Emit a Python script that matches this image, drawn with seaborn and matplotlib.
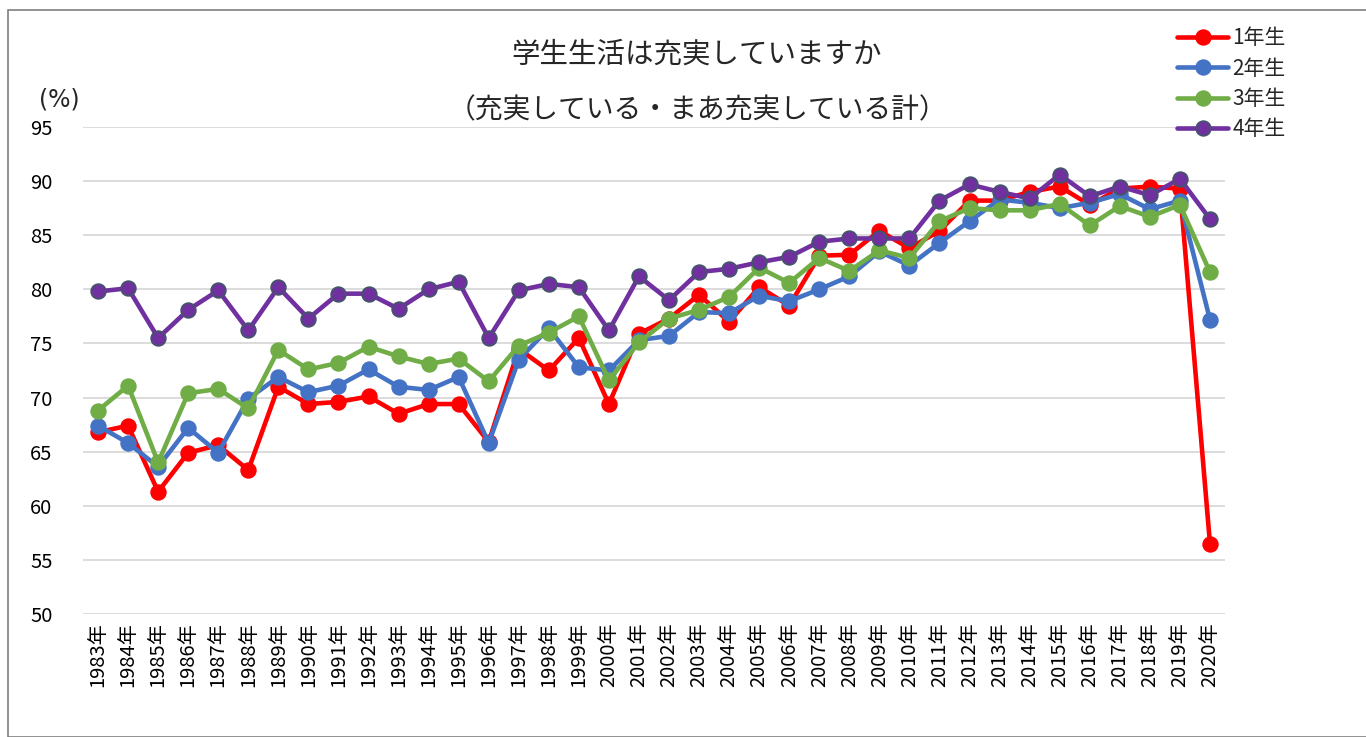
import numpy as np
import pandas as pd
import matplotlib
matplotlib.use("Agg")
import matplotlib.pyplot as plt
import seaborn as sns
from matplotlib.patches import Rectangle

years = [f"{y}年" for y in range(1983, 2021)]
series_names = ["1年生", "2年生", "3年生", "4年生"]

grade1 = [66.8, 67.4, 61.3, 64.9, 65.6, 63.3, 71.0, 69.4, 69.6, 70.1, 68.5, 69.4, 69.4, 65.9,
          74.5, 72.5, 75.5, 69.4, 75.9, 77.3, 79.5, 77.0, 80.2, 78.5, 83.1, 83.2, 85.4, 83.8,
          85.4, 88.2, 88.2, 89.0, 89.5, 87.8, 89.3, 89.5, 89.3, 56.5]
grade2 = [67.4, 65.8, 63.6, 67.2, 64.9, 69.9, 71.9, 70.5, 71.1, 72.6, 71.0, 70.7, 71.9, 65.8,
          73.5, 76.4, 72.8, 72.5, 75.3, 75.7, 77.9, 77.8, 79.4, 78.9, 80.0, 81.2, 83.5, 82.2,
          84.3, 86.3, 88.3, 88.0, 87.5, 88.0, 88.8, 87.4, 88.2, 77.2]
grade3 = [68.8, 71.1, 64.0, 70.4, 70.8, 69.0, 74.4, 72.6, 73.2, 74.7, 73.8, 73.1, 73.6, 71.5,
          74.8, 76.0, 77.5, 71.6, 75.1, 77.3, 78.1, 79.3, 82.0, 80.6, 82.9, 81.7, 83.6, 82.9,
          86.3, 87.5, 87.3, 87.3, 87.9, 85.9, 87.7, 86.7, 87.8, 81.6]
grade4 = [79.8, 80.1, 75.5, 78.1, 79.9, 76.2, 80.2, 77.3, 79.6, 79.6, 78.2, 80.0, 80.7, 75.5,
          79.9, 80.5, 80.2, 76.2, 81.2, 79.0, 81.6, 81.9, 82.5, 83.0, 84.4, 84.7, 84.7, 84.7,
          88.2, 89.7, 89.0, 88.4, 90.6, 88.6, 89.5, 88.7, 90.2, 86.5]

title1 = "学生生活は充実していますか"
title2 = "（充実している・まあ充実している計）"
unit_label = "(%)"

colors = ["#FF0000", "#4472C4", "#70AD47", "#7030A0"]
edge_colors = ["#FF0000", "#4472C4", "#70AD47", "#44546A"]

sns.set_theme(style="white")
plt.rcParams["font.family"] = ["Noto Sans CJK JP", "DejaVu Sans"]

fig = plt.figure(figsize=(13.66, 7.37), dpi=100)
ax = fig.add_axes([83 / 1366, 1 - 614 / 737, (1225 - 83) / 1366, (614 - 127) / 737])

idx = np.arange(len(years))
for name, vals, c, ec in zip(series_names, [grade1, grade2, grade3, grade4], colors, edge_colors):
    df = pd.DataFrame({"x": idx, "y": vals})
    sns.lineplot(data=df, x="x", y="y", ax=ax, color=c, linewidth=3.3, marker="o",
                 markersize=10.5, markeredgecolor=ec, markeredgewidth=1.3, label=name,
                 legend=False)

ax.set_xlim(-0.5, len(years) - 0.5)
ax.set_ylim(50, 95)
ax.set_yticks(np.arange(50, 96, 5))
ax.set_xticks(idx)
ax.set_xticklabels(years, rotation=90, fontsize=14.5)
ax.tick_params(axis="y", labelsize=14.5, length=0, pad=22, colors="#000000")
ax.tick_params(axis="x", length=0, pad=6, colors="#000000")
ax.grid(axis="y", color="#D9D9D9", linewidth=1.3)
ax.grid(axis="x", visible=False)
for s in ax.spines.values():
    s.set_visible(False)
ax.set_xlabel("")
ax.set_ylabel("")

fig.text(697 / 1366, 1 - 55 / 737, title1, ha="center", va="center", fontsize=20.5)
fig.text(697 / 1366, 1 - 110 / 737, title2, ha="center", va="center", fontsize=20)
fig.text(59 / 1366, 1 - 100 / 737, unit_label, ha="center", va="center", fontsize=17,
         family=["DejaVu Sans"])

handles, labels = ax.get_legend_handles_labels()
fig.legend(handles, labels, loc="upper left", bbox_to_anchor=(1169 / 1366, 1 - 19 / 737),
           frameon=False, fontsize=15, handlelength=2.45, labelspacing=0.4,
           handletextpad=0.2, borderaxespad=0)

fig.patches.append(Rectangle((8 / 1366, 0), 1.2, 1 - 10 / 737, transform=fig.transFigure,
                             fill=False, edgecolor="#7F7F7F", linewidth=1.2))

fig.savefig("out.png", dpi=100)
